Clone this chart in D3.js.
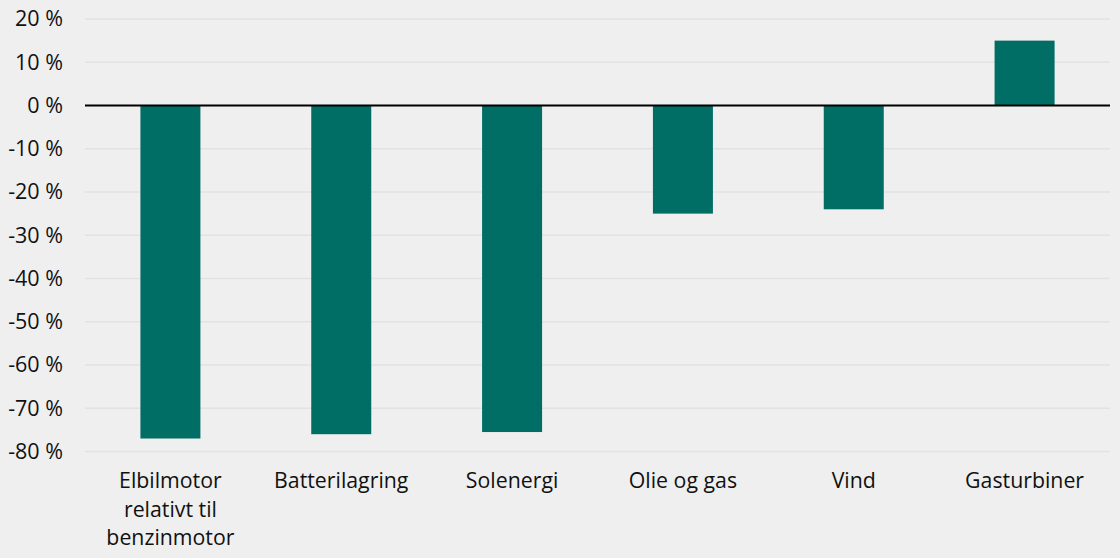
<!DOCTYPE html>
<html><head><meta charset="utf-8">
<script src="https://cdn.jsdelivr.net/npm/d3@7"></script>
<style>html,body{margin:0;padding:0;background:#efefef;}</style>
</head><body>
<svg id="c" width="1120" height="558"></svg>
<script>
const categories = [["Elbilmotor","relativt til","benzinmotor"],["Batterilagring"],["Solenergi"],["Olie og gas"],["Vind"],["Gasturbiner"]];
const values = [-77, -76, -75.5, -25, -24, 15];
const yTicks = [20,10,0,-10,-20,-30,-40,-50,-60,-70,-80];

(function(){
const svg = d3.select("#c");
svg.append("rect").attr("width",1120).attr("height",558).attr("fill","#efefef");
const mLeft=85, mRight=1110, mTop=19, mBottom=451.5;
const x = d3.scaleBand().domain(d3.range(categories.length)).range([mLeft,mRight]).paddingInner(0).paddingOuter(0);
const y = d3.scaleLinear().domain([-80,20]).range([mBottom,mTop]);

svg.append("g").selectAll("line").data(yTicks).join("line")
  .attr("x1",mLeft).attr("x2",mRight).attr("y1",d=>y(d)).attr("y2",d=>y(d))
  .attr("stroke","#e2e2e2").attr("stroke-width",1.3);

const yAxis = d3.axisLeft(y).tickValues(yTicks).tickSize(0).tickPadding(0).tickFormat(d=>d+" %");
const ga = svg.append("g").attr("transform",`translate(63,0)`).call(yAxis);
ga.select(".domain").remove();
ga.selectAll("text").attr("font-family","'Open Sans', sans-serif").attr("font-size",21.5).attr("fill","#111");

const bw = 60;
svg.append("g").selectAll("rect").data(values).join("rect")
  .attr("x",(d,i)=>x(i)+x.bandwidth()/2-bw/2).attr("width",bw)
  .attr("y",d=>y(Math.max(0,d))).attr("height",d=>Math.abs(y(d)-y(0)))
  .attr("fill","#006e64");

svg.append("line").attr("x1",mLeft).attr("x2",mRight).attr("y1",y(0)).attr("y2",y(0))
  .attr("stroke","#000").attr("stroke-width",1.8);

categories.forEach((lines,i)=>{
  const cx = x(i)+x.bandwidth()/2;
  const t = svg.append("text").attr("x",cx).attr("y",488)
    .attr("text-anchor","middle").attr("font-family","'Open Sans', sans-serif").attr("font-size",21.3).attr("fill","#111");
  lines.forEach((l,j)=>t.append("tspan").attr("x",cx).attr("dy",j===0?0:28.5).text(l));
});
})();
</script>
</body></html>
